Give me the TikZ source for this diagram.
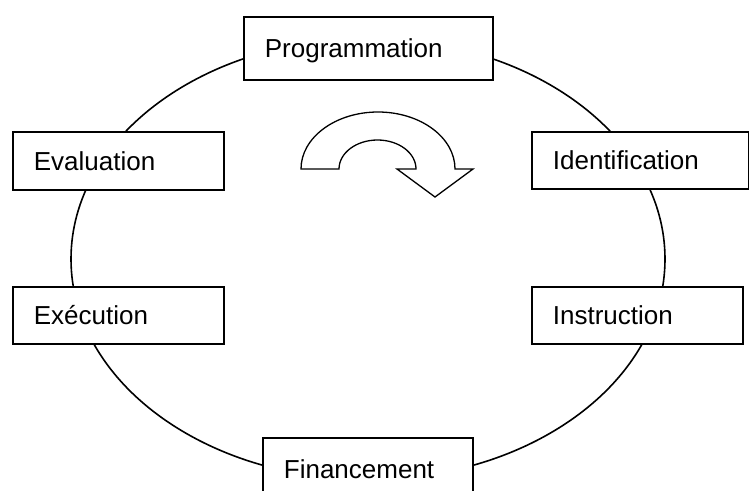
\documentclass[tikz,border=0pt]{standalone}
\usepackage{fontspec}
\setmainfont{Liberation Sans}
\begin{document}
\begin{tikzpicture}[x=1pt,y=-1pt,
  stage/.style={draw, line width=1.8pt, fill=white, anchor=north west,
    inner xsep=21pt, inner ysep=0pt, align=left,
    font=\fontsize{26}{30}\selectfont, text height=18.6pt, text depth=0pt},
  cycleline/.style={line width=1.6pt},
  turnarrow/.style={draw, line width=1.3pt, fill=white, line join=miter}]
\useasboundingbox (0,0) rectangle (749,490);
\clip (0,0) rectangle (749,490);

% the cycle
\draw[cycleline] (368,259) ellipse [x radius=297, y radius=220.5];

% stages of the cycle
\node[stage, text width=207pt, minimum height=63pt] (prog) at (243,16) {Programmation};
\node[stage, text width=175pt, minimum height=57pt] (ident) at (531,131) {Identification};
\node[stage, text width=169pt, minimum height=57pt] (instr) at (531,286) {Instruction};
\node[stage, text width=168pt, minimum height=62pt] (fin) at (262,437) {Financement};
\node[stage, text width=169pt, minimum height=57pt] (exec) at (12,286) {Exécution};
\node[stage, text width=169pt, minimum height=58pt] (eval) at (12,131) {Evaluation};

% direction of the cycle
\draw[turnarrow] (301,169) arc[start angle=180, end angle=360, x radius=77, y radius=57]
  -- (473,169) -- (435,197) -- (397,169) -- (416,169)
  arc[start angle=0, end angle=-180, x radius=38.5, y radius=29]
  -- cycle;
\end{tikzpicture}
\end{document}
